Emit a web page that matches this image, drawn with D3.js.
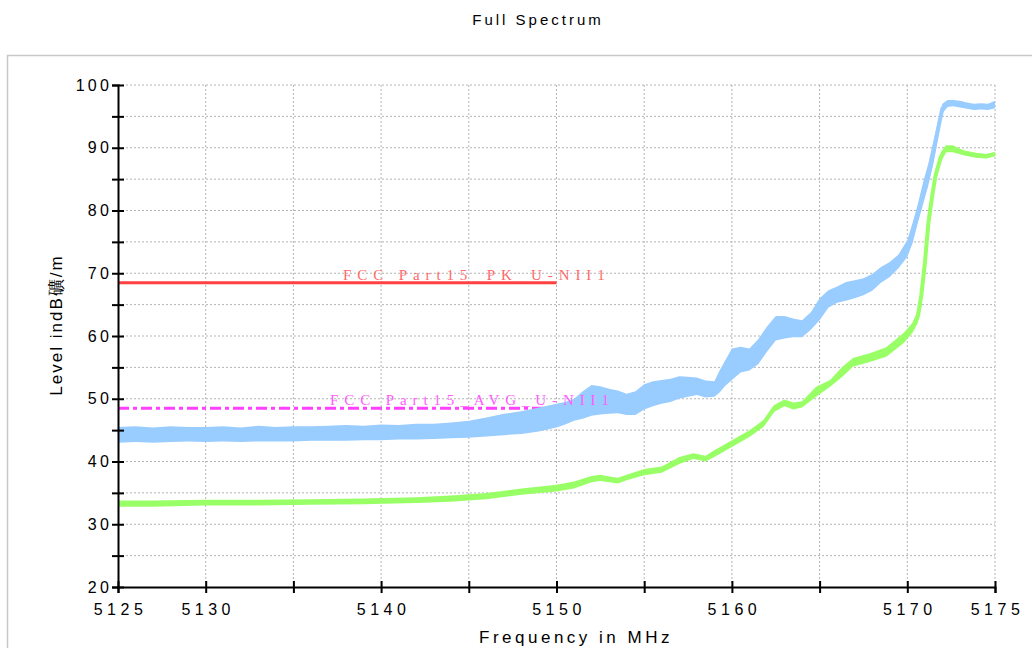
<!DOCTYPE html>
<html><head><meta charset="utf-8">
<script src="https://cdn.jsdelivr.net/npm/d3@7/dist/d3.min.js"></script>
<style>body{margin:0;background:#fff;overflow:hidden}</style>
</head><body>
<svg id="c" width="1032" height="648"></svg>
<script>
// ---- data ----
const title = "Full Spectrum";
const xTitle = "Frequency in MHz";
const yTitle = "Level indB礦/m";
const xTickLabels = [5125, 5130, 5140, 5150, 5160, 5170, 5175];
const yTickLabels = [20, 30, 40, 50, 60, 70, 80, 90, 100];

// Peak trace (light blue): envelope of the noisy band
const pkFreq = [5125,5126,5127,5128,5129,5130,5131,5132,5133,5134,5135,5136,5137,5138,5139,5140,5141,5142,5143,5144,5145,5146,5147,5148,5149,5150,5150.5,5151,5151.5,5152,5152.5,5153,5153.5,5154,5154.5,5155,5155.5,5156,5156.5,5157,5157.5,5158,5158.5,5159,5159.3,5159.6,5160,5160.5,5161,5161.5,5162,5162.5,5163,5163.5,5164,5164.5,5165,5165.5,5166,5166.5,5167,5167.5,5168,5168.5,5169,5169.5,5170,5170.3,5170.6,5170.9,5171.2,5171.5,5171.8,5172,5172.3,5172.6,5173,5173.4,5173.8,5174.2,5174.6,5175];
const pkHi = [45.5,45.6,45.4,45.6,45.5,45.5,45.6,45.4,45.7,45.5,45.6,45.6,45.7,45.8,45.7,45.9,45.8,46.0,46.0,46.2,46.5,47.0,47.6,48.0,48.6,49.2,49.5,50.0,51.2,52.2,52.0,51.6,51.3,50.8,51.2,52.3,52.8,53.0,53.2,53.6,53.5,53.4,52.9,52.8,54.5,56.0,58.0,58.3,58.0,59.5,61.5,63.2,63.2,62.8,62.5,63.8,66.0,67.3,67.9,68.6,68.9,69.2,69.9,71.0,71.8,73.0,75.3,78.0,81.0,84.5,87.5,91.2,94.9,97.0,97.6,97.6,97.5,97.2,97.0,97.1,97.0,97.5];
const pkLo = [43.0,43.1,43.0,43.1,43.2,43.1,43.2,43.1,43.2,43.2,43.2,43.3,43.3,43.3,43.4,43.4,43.5,43.5,43.6,43.7,43.8,44.0,44.2,44.4,44.8,45.4,45.9,46.5,46.8,47.3,47.5,47.6,47.7,47.4,47.4,48.3,48.8,49.2,49.5,50.0,50.3,50.6,50.2,50.3,51.0,52.0,53.0,54.2,54.5,55.5,57.5,59.3,59.6,59.8,59.8,61.0,62.5,64.5,65.3,65.6,66.0,66.5,67.2,68.5,69.4,70.8,72.6,74.8,78.0,81.0,84.0,87.6,92.3,95.5,96.5,96.6,96.4,96.2,96.0,96.1,96.0,96.3];

// Average trace (light green): envelope
const avFreq = [5125,5127,5130,5133,5136,5139,5142,5144,5146,5148,5150,5151,5152,5152.5,5153,5153.5,5154,5155,5156,5157,5157.8,5158.5,5159,5160,5161,5161.8,5162.4,5163,5163.5,5164,5164.8,5165.6,5166.3,5166.9,5167.9,5168.8,5169.8,5170.3,5170.6,5170.8,5171.0,5171.2,5171.4,5171.6,5171.9,5172.2,5172.6,5173.2,5173.9,5174.5,5175];
const avHi = [33.8,33.8,33.9,33.9,34.0,34.1,34.3,34.6,35.0,35.7,36.3,36.8,37.7,37.9,37.6,37.4,37.9,38.8,39.2,40.7,41.3,40.9,41.8,43.4,45.0,46.6,49.0,49.9,49.4,49.6,51.9,53.0,55.1,56.5,57.3,58.2,60.5,62.1,64.1,68.4,73.7,80.1,83.3,86.5,89.2,90.4,90.4,89.6,89.2,89.0,89.3];
const avLo = [32.8,32.8,33.0,33.0,33.1,33.2,33.4,33.6,34.0,34.7,35.2,35.7,36.7,36.9,36.7,36.5,37.0,37.8,38.2,39.6,40.4,40.0,40.7,42.3,43.9,45.5,47.9,48.8,48.3,48.6,50.3,51.9,53.5,55.1,55.9,56.7,58.9,60.5,62.1,64.6,69.4,75.8,80.6,84.4,87.6,89.3,89.3,88.8,88.4,88.3,88.7];

// Limit lines
const limitNames = ["FCC Part15_PK_U-NII1", "FCC Part15_AVG_U-NII1"];
const limitLevels = [68.5, 48.5];
const limitStart = [5125, 5125];
const limitEnd = [5150, 5150];

// ---- drawing ----
const svg = d3.select("#c");
const FONT = "'Liberation Sans', Arial, sans-serif";

// outer frame
svg.append("rect").attr("x", 7.5).attr("y", 55.5).attr("width", 1040).attr("height", 620)
  .attr("fill", "#fff").attr("stroke", "#c8c8c8").attr("stroke-width", 1.5);

const x = d3.scaleLinear().domain([5125, 5175]).range([118, 995]);
const y = d3.scaleLinear().domain([20, 100]).range([587, 85]);

// grid
const g = svg.append("g");
g.selectAll(".hg").data(d3.range(25, 101, 5)).join("line")
  .attr("x1", x(5125)).attr("x2", x(5175)).attr("y1", d => y(d)).attr("y2", d => y(d))
  .attr("stroke", "#b4b4b4").attr("stroke-width", 1).attr("stroke-dasharray", "2,2");
g.selectAll(".vg").data(d3.range(5130, 5176, 5)).join("line")
  .attr("x1", d => x(d)).attr("x2", d => x(d)).attr("y1", y(20)).attr("y2", y(100))
  .attr("stroke", "#b4b4b4").attr("stroke-width", 1).attr("stroke-dasharray", "2,2");

// limit lines
limitLevels.forEach((lv, i) => {
  svg.append("line").attr("x1", x(limitStart[i])).attr("x2", x(limitEnd[i]))
    .attr("y1", y(lv)).attr("y2", y(lv))
    .attr("stroke", i === 0 ? "#ff4040" : "#ff40ff").attr("stroke-width", 3)
    .attr("stroke-dasharray", i === 0 ? null : "11,4,4,4");
});

// traces
function drawTrace(fr, hi, lo, color) {
  const pts = fr.map((f, i) => ({ f, hi: hi[i], lo: lo[i] }));
  svg.append("path").datum(pts)
    .attr("d", d3.area().x(d => x(d.f)).y0(d => y(d.lo)).y1(d => y(d.hi)))
    .attr("fill", color);
  svg.append("path").datum(pts)
    .attr("d", d3.line().x(d => x(d.f)).y(d => y((d.hi + d.lo) / 2)))
    .attr("fill", "none").attr("stroke", color).attr("stroke-width", 4);
}
drawTrace(pkFreq, pkHi, pkLo, "#99ccff");
drawTrace(avFreq, avHi, avLo, "#99ff66");

// limit labels
const labelX = [343, 330];
limitNames.forEach((t, i) => {
  svg.append("text").attr("x", labelX[i]).attr("y", y(limitLevels[i]) - 3)
    .attr("font-family", "'Liberation Serif', 'Times New Roman', serif")
    .attr("font-size", 15).attr("letter-spacing", 5.9)
    .attr("fill", i === 0 ? "#ff6a6a" : "#ff5cff").text(t);
});

// axes
const yAxis = d3.axisLeft(y).tickValues(d3.range(20, 101, 5))
  .tickFormat(d => yTickLabels.includes(d) ? String(d) : "").tickSize(6).tickPadding(0);
const ya = svg.append("g").attr("transform", `translate(${x(5125)},0)`).call(yAxis);
ya.select(".domain").attr("stroke", "#000").attr("stroke-width", 2);
ya.selectAll(".tick line").attr("x1", -6).attr("x2", 6).attr("stroke", "#000").attr("stroke-width", 2);
ya.selectAll(".tick text").attr("font-family", FONT).attr("font-size", 16)
  .attr("letter-spacing", 3.2).attr("fill", "#000");

const xAxis = d3.axisBottom(x).tickValues(d3.range(5125, 5176, 5))
  .tickFormat(d => xTickLabels.includes(d) ? String(d) : "").tickSize(6).tickPadding(11);
const xa = svg.append("g").attr("transform", `translate(0,${y(20)})`).call(xAxis);
xa.select(".domain").attr("stroke", "#000").attr("stroke-width", 2);
xa.selectAll(".tick line").attr("y1", -6).attr("y2", 6).attr("stroke", "#000").attr("stroke-width", 2);
xa.selectAll(".tick text").attr("font-family", FONT).attr("font-size", 16)
  .attr("letter-spacing", 4.5).attr("dx", 2).attr("fill", "#000");

// titles
svg.append("text").attr("x", 538).attr("y", 25).attr("text-anchor", "middle")
  .attr("font-family", FONT).attr("font-size", 15).attr("letter-spacing", 3).text(title);
svg.append("text").attr("x", 576).attr("y", 643).attr("text-anchor", "middle")
  .attr("font-family", FONT).attr("font-size", 17).attr("letter-spacing", 3.5).text(xTitle);
svg.append("text").attr("transform", "translate(62,325) rotate(-90)").attr("text-anchor", "middle")
  .attr("font-family", FONT).attr("font-size", 17).attr("letter-spacing", 2).text(yTitle);
</script>
</body></html>
